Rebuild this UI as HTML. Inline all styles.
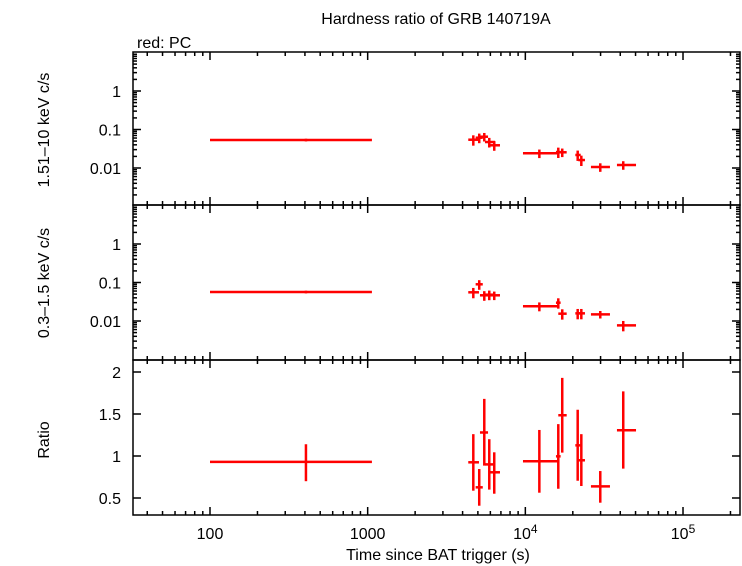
<!DOCTYPE html>
<html><head><meta charset="utf-8"><style>
body{margin:0;background:#fff}
svg{display:block;font-family:"Liberation Sans",sans-serif}
</style></head><body>
<svg id="c" width="742" height="566"></svg>
<script>
// data
const tMid=[406,4677,5100,5490,5905,6350,12270,16180,17140,21480,22650,29870,41780];
const tLo=[100,4345,4840,5155,5545,5970,9660,15640,16180,20750,21680,26070,38110];
const tHi=[1064,5080,5370,5800,6425,6905,16180,16740,18290,22440,23890,34410,50350];
const hardRate=[0.0533,0.0543,0.0612,0.065,0.0473,0.0389,0.0241,0.026,0.0256,0.0218,0.0161,0.0106,0.012];
const hardErr=[0.08,0.3,0.28,0.25,0.28,0.28,0.25,0.3,0.25,0.3,0.3,0.25,0.25];
const softRate=[0.0567,0.0556,0.0898,0.0465,0.0482,0.0465,0.0241,0.0299,0.0155,0.0158,0.0158,0.0149,0.0077];
const softErr=[0.08,0.3,0.28,0.28,0.28,0.25,0.26,0.3,0.3,0.3,0.3,0.22,0.3];
const ratio=[0.93,0.925,0.627,1.28,0.90,0.806,0.937,0.996,1.485,1.127,0.949,0.639,1.306];
const ratioLo=[0.70,0.587,0.408,0.885,0.60,0.551,0.563,0.61,1.04,0.706,0.643,0.444,0.849];
const ratioHi=[1.14,1.26,0.845,1.68,1.20,1.044,1.31,1.38,1.93,1.55,1.26,0.821,1.77];
const xTicks=[100,1000,10000,100000];
const xTickLabels=["100","1000","10^4","10^5"];
const logTicks=[1,0.1,0.01];
const logTickLabels=["1","0.1","0.01"];
const ratioTicks=[0.5,1,1.5,2];
const ratioTickLabels=["0.5","1","1.5","2"];

const L=133,R=740;
const X=t=>210+157.67*(Math.log10(t)-2);
const panels=[{top:52,bot:205,y1:91},{top:205,bot:360,y1:244}];
const ylog=(p,v)=>p.y1-38.5*Math.log10(v);
const yr=v=>456-84*(v-1);
const svg=document.getElementById('c');
const NS='http://www.w3.org/2000/svg';
function el(tag,a,txt){const e=document.createElementNS(NS,tag);for(const k in a)e.setAttribute(k,a[k]);if(txt!=null)e.textContent=txt;svg.appendChild(e);return e;}
function line(x1,y1,x2,y2,c,w){return el('line',{x1,y1,x2,y2,stroke:c,'stroke-width':w});}

[[52,205],[205,360],[360,515]].forEach((p,i)=>{
  const r=el('rect',{x:L,y:p[0],width:R-L,height:p[1]-p[0],fill:'none',stroke:'#000','stroke-width':1.5});
  
  
  for(let d=1;d<=5;d++)for(let m=1;m<10;m++){
    const t=m*Math.pow(10,d);const x=X(t);if(x<L||x>R)continue;
    const len=m===1?8:4;
    line(x,p[0],x,p[0]+len,'#000',1.5);line(x,p[1],x,p[1]-len,'#000',1.5);
  }
});
panels.forEach((p,pi)=>{
  for(let d=-3;d<=1;d++)for(let m=1;m<10;m++){
    const v=m*Math.pow(10,d);const y=ylog(p,v);if(y<p.top+1||y>p.bot-1)continue;
    const len=m===1?8:4;
    line(L,y,L+len,y,'#000',1.5);line(R,y,R-len,y,'#000',1.5);
  }
  logTicks.forEach((v,i)=>{
    const t=el('text',{x:121,y:ylog(p,v)+6,'text-anchor':'end','font-size':16},logTickLabels[i]);
    
    
  });
});
ratioTicks.forEach((v,i)=>{
  const y=yr(v);line(L,y,L+8,y,'#000',1.5);line(R,y,R-8,y,'#000',1.5);
  const t=el('text',{x:121,y:y+6,'text-anchor':'end','font-size':16},ratioTickLabels[i]);
  
  
});
xTicks.forEach((v,i)=>{
  const s=xTickLabels[i];
  let t;
  if(s.indexOf('^')>0){
    const [b,e]=s.split('^');
    t=el('text',{x:X(v),y:539,'text-anchor':'middle','font-size':16});
    const a=document.createElementNS(NS,'tspan');a.textContent=b;t.appendChild(a);
    const c=document.createElementNS(NS,'tspan');c.textContent=e;c.setAttribute('dy','-6');c.setAttribute('font-size','12');t.appendChild(c);
  } else t=el('text',{x:X(v),y:539,'text-anchor':'middle','font-size':16},s);
  
  
});
function cross(x1,x2,xc,y,ya,yb,name){
  const g1=line(X(x1),y,X(x2),y,'#f00',2.5);
  
  
  const g2=line(X(xc),ya,X(xc),yb,'#f00',2.5);
  
  
}
for(let i=0;i<tMid.length;i++){
  const p0=panels[0],p1=panels[1];
  cross(tLo[i],tHi[i],tMid[i],ylog(p0,hardRate[i]),ylog(p0,hardRate[i]*(1+hardErr[i])),ylog(p0,hardRate[i]*(1-hardErr[i])),'hard-point');
  cross(tLo[i],tHi[i],tMid[i],ylog(p1,softRate[i]),ylog(p1,softRate[i]*(1+softErr[i])),ylog(p1,softRate[i]*(1-softErr[i])),'soft-point');
  cross(tLo[i],tHi[i],tMid[i],yr(ratio[i]),yr(ratioHi[i]),yr(ratioLo[i]),'ratio-point');
}
function txt(s,a,name){const t=el('text',a,s);return t;}
txt('Hardness ratio of GRB 140719A',{x:436,y:24,'text-anchor':'middle','font-size':16},'chart-title');
txt('red: PC',{x:137,y:48,'font-size':16},'legend-label');
txt('Time since BAT trigger (s)',{x:438,y:560,'text-anchor':'middle','font-size':16},'x-axis-title');
txt('1.51–10 keV c/s',{x:0,y:0,'text-anchor':'middle','font-size':16,transform:'translate(49,130) rotate(-90)'},'hard-y-axis-title');
txt('0.3–1.5 keV c/s',{x:0,y:0,'text-anchor':'middle','font-size':16,transform:'translate(49,283) rotate(-90)'},'soft-y-axis-title');
txt('Ratio',{x:0,y:0,'text-anchor':'middle','font-size':16,transform:'translate(49,440) rotate(-90)'},'ratio-y-axis-title');
</script>
</body></html>
